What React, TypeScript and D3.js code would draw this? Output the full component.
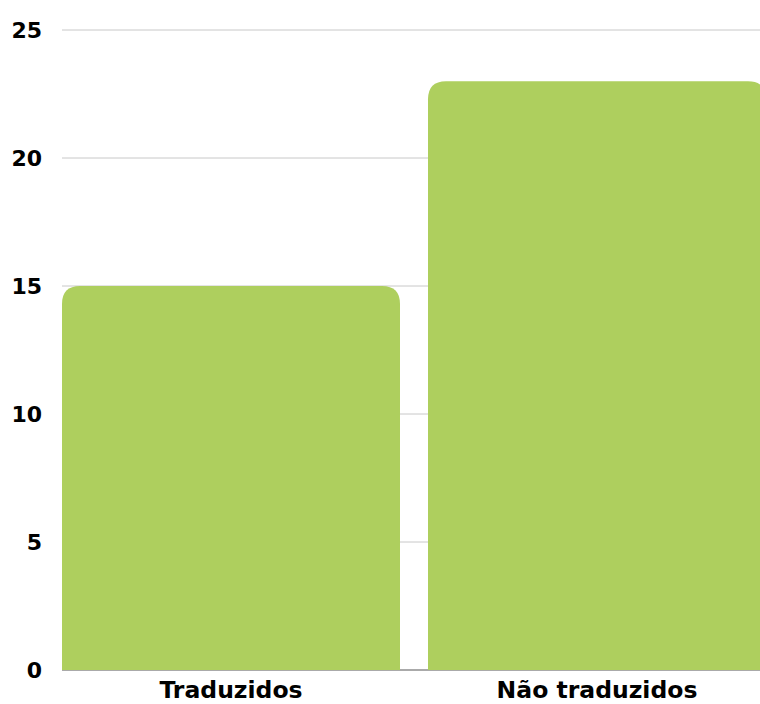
import React from "react";
import * as d3 from "d3";

const categories = ["Traduzidos", "Não traduzidos"];
const values = [15, 23];
const yTicks = [0, 5, 10, 15, 20, 25];

const W = 760;
const H = 704;
const FONT = "'DejaVu Sans', sans-serif";

function topRoundedRect(x: number, y: number, w: number, h: number, r: number) {
  const rr = Math.min(r, w / 2, h);
  return `M${x},${y + h}V${y + rr}Q${x},${y} ${x + rr},${y}H${x + w - rr}Q${x + w},${y} ${x + w},${y + rr}V${y + h}Z`;
}

export default function App() {
  const x = d3
    .scaleBand<string>()
    .domain(categories)
    .range([62, 766])
    .paddingInner(28 / 366)
    .paddingOuter(0);
  const y = d3.scaleLinear().domain([0, 25]).range([670, 30]);

  return (
    <svg
      width={W}
      height={H}
      style={{ position: "absolute", left: 0, top: 0, background: "#fff" }}
    >
      {yTicks.map((t) => (
        <g key={t}>
          {t > 0 && (
            <line x1={62} x2={W} y1={y(t)} y2={y(t)} stroke="#c8c8c8" strokeWidth={1} />
          )}
          <text
            x={42}
            y={y(t)}
            dy="0.36em"
            textAnchor="end"
            fontFamily={FONT}
            fontWeight={700}
            fontSize={22}
            fill="#000"
          >
            {t}
          </text>
        </g>
      ))}
      <line x1={62} x2={W} y1={y(0)} y2={y(0)} stroke="#aaaaaa" strokeWidth={2} />
      {categories.map((c, i) => (
        <path
          key={c}
          d={topRoundedRect(x(c)!, y(values[i]), x.bandwidth(), y(0) - y(values[i]), 18)}
          fill="#aecf5e"
        />
      ))}
      {categories.map((c) => (
        <text
          key={c}
          x={x(c)! + x.bandwidth() / 2}
          y={698}
          textAnchor="middle"
          fontFamily={FONT}
          fontWeight={700}
          fontSize={23.5}
          fill="#000"
        >
          {c}
        </text>
      ))}
    </svg>
  );
}
